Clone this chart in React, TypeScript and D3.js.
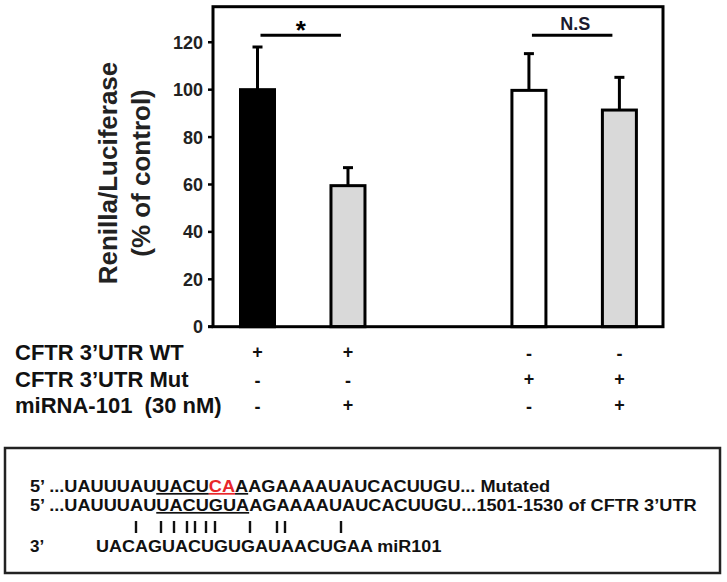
import React from "react";
import * as d3 from "d3";

const groups = ["WT", "WT + miR-101", "Mut", "Mut + miR-101"];
const groupPos = [1, 2, 4, 5];
const means = [100, 59.5, 99.7, 91.4];
const errs = [18, 7.6, 15.5, 13.8];
const fills = ["#000000", "#d9d9d9", "#ffffff", "#d9d9d9"];
const yTicks = [0, 20, 40, 60, 80, 100, 120];
const comparisons = [
  { a: 0, b: 1, label: "*", level: 123 },
  { a: 2, b: 3, label: "N.S", level: 123 },
];
const rowLabels = ["CFTR 3\u2019UTR WT", "CFTR 3\u2019UTR Mut", "miRNA-101  (30 nM)"];
const rowSigns = [
  ["+", "+", "-", "-"],
  ["-", "-", "+", "+"],
  ["-", "+", "-", "+"],
];
const seqPrefix = "5\u2019 ...UAUUUAU";
const seedMutA = "UACU";
const seedMutB = "CA";
const seedMutC = "A";
const seedWT = "UACUGUA";
const seqTail = "AGAAAAUAUCACUUGU";
const mutNote = "... Mutated";
const wtNote = "...1501-1530 of CFTR 3\u2019UTR";
const mirLabel = "3\u2019";
const mirSeq = "UACAGUACUGUGAUAACUGAA miR101";
const pairMarksX = [136, 161, 174, 187, 195, 206, 215, 250, 277, 285, 341];

const W = 727;
const H = 582;
const FONT = "'Liberation Sans', Arial, Helvetica, sans-serif";

export default function App() {
  const frame = { left: 213, right: 663, top: 6.7, bottom: 326.7 };
  const y = d3.scaleLinear().domain([0, 135]).range([frame.bottom, frame.top]);
  const x = d3.scaleLinear().domain([1, 5]).range([257.5, 619.4]);
  const barW = 34;
  const rowY = [360, 387, 413];
  const seqY = [492, 511, 552];
  const sx = 1.07;

  return (
    <svg
      width={W}
      height={H}
      viewBox={`0 0 ${W} ${H}`}
      style={{ position: "absolute", left: 0, top: 0, background: "#fff" }}
      fontFamily={FONT}
    >
      <rect x={0} y={0} width={W} height={H} fill="#fff" />
      {/* bars */}
      {groups.map((g, i) => {
        const cx = x(groupPos[i]);
        return (
          <g key={g}>
            <line x1={cx} x2={cx} y1={y(means[i])} y2={y(means[i] + errs[i])} stroke="#000" strokeWidth={3} />
            <line x1={cx - 5} x2={cx + 5} y1={y(means[i] + errs[i])} y2={y(means[i] + errs[i])} stroke="#000" strokeWidth={3} />
            <rect
              x={cx - barW / 2}
              y={y(means[i])}
              width={barW}
              height={y(0) - y(means[i])}
              fill={fills[i]}
              stroke="#000"
              strokeWidth={3}
            />
          </g>
        );
      })}
      {/* frame */}
      <rect
        x={frame.left}
        y={frame.top}
        width={frame.right - frame.left}
        height={frame.bottom - frame.top}
        fill="none"
        stroke="#000"
        strokeWidth={3}
      />
      <line x1={frame.left - 5} x2={frame.left} y1={frame.bottom} y2={frame.bottom} stroke="#000" strokeWidth={3} />
      {/* y ticks */}
      {yTicks.map((t) => (
        <g key={t}>
          <line x1={frame.left - 5} x2={frame.left} y1={y(t)} y2={y(t)} stroke="#000" strokeWidth={2.5} />
          <text x={frame.left - 10} y={y(t)} dy="0.36em" textAnchor="end" fontSize={18} fontWeight="bold" fill="#222">
            {t}
          </text>
        </g>
      ))}
      {/* y label */}
      <text transform="translate(117,173) rotate(-90)" textAnchor="middle" fontSize={26} fontWeight="bold" fill="#222">
        Renilla/Luciferase
      </text>
      <text transform="translate(150,173) rotate(-90)" textAnchor="middle" fontSize={26} fontWeight="bold" fill="#222">
        (% of control)
      </text>
      {/* significance */}
      {comparisons.map((c) => {
        const x1 = x(groupPos[c.a]) + 3;
        const x2 = x(groupPos[c.b]) - 7;
        const yy = y(c.level);
        const star = c.label === "*";
        return (
          <g key={c.label}>
            <line x1={x1} x2={x2} y1={yy} y2={yy} stroke="#000" strokeWidth={3} />
            <text
              x={(x1 + x2) / 2 + (star ? 0 : 3)}
              y={star ? yy + 4 : yy - 5}
              textAnchor="middle"
              fontSize={star ? 26 : 18}
              fontWeight="bold"
              fill={star ? "#000" : "#1a1a2e"}
            >
              {c.label}
            </text>
          </g>
        );
      })}
      {/* condition table */}
      {rowLabels.map((lab, r) => (
        <g key={lab}>
          <text x={15} y={rowY[r]} fontSize={22} fontWeight="bold" fill="#111" style={{ whiteSpace: "pre" }}>
            {lab}
          </text>
          {rowSigns[r].map((s, i) => (
            <text key={i} x={x(groupPos[i])} y={rowY[r] - (s === "+" ? 2 : 0)} textAnchor="middle" fontSize={18} fontWeight="bold" fill="#111">
              {s}
            </text>
          ))}
        </g>
      ))}
      {/* sequence box */}
      <rect x={5} y={448} width={715} height={125} fill="none" stroke="#222" strokeWidth={2.5} />
      <g transform={`translate(30,${seqY[0]}) scale(${sx},1)`}>
        <text x={0} y={0} fontSize={17} fontWeight="bold" fill="#111">
          <tspan>{seqPrefix}</tspan>
          <tspan textDecoration="underline">{seedMutA}</tspan>
          <tspan textDecoration="underline" fill="#e8262a">{seedMutB}</tspan>
          <tspan textDecoration="underline">{seedMutC}</tspan>
          <tspan>{seqTail + mutNote}</tspan>
        </text>
      </g>
      <g transform={`translate(30,${seqY[1]}) scale(${sx},1)`}>
        <text x={0} y={0} fontSize={17} fontWeight="bold" fill="#111">
          <tspan>{seqPrefix}</tspan>
          <tspan textDecoration="underline">{seedWT}</tspan>
          <tspan>{seqTail + wtNote}</tspan>
        </text>
      </g>
      {pairMarksX.map((px, i) => (
        <line key={i} x1={px} x2={px} y1={521} y2={533} stroke="#111" strokeWidth={2.4} />
      ))}
      <text x={30} y={seqY[2]} fontSize={17} fontWeight="bold" fill="#111">
        {mirLabel}
      </text>
      <g transform={`translate(96,${seqY[2]}) scale(1.06,1)`}>
        <text x={0} y={0} fontSize={17} fontWeight="bold" fill="#111">
          {mirSeq}
        </text>
      </g>
    </svg>
  );
}
